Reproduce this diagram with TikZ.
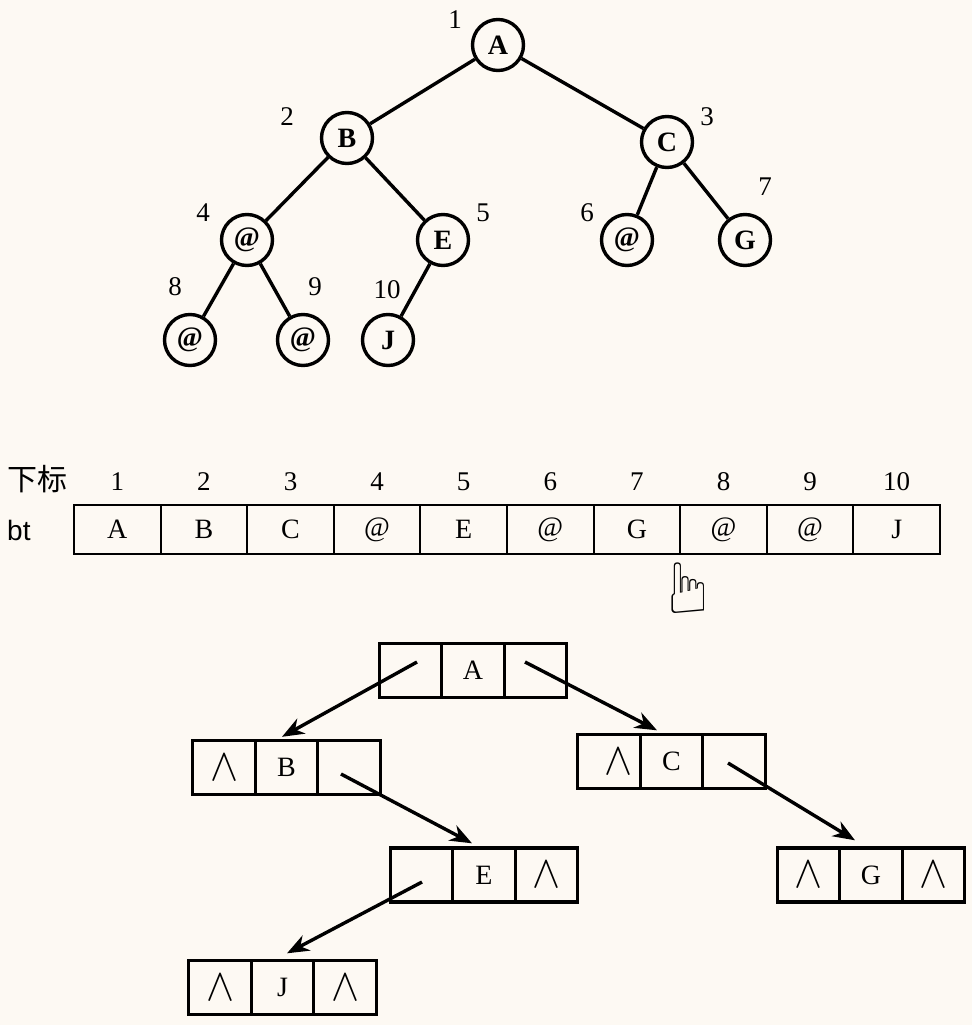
\documentclass[tikz,border=0pt]{standalone}
\usepackage{fontspec}
\setmainfont{Liberation Serif}
\newfontfamily\cjkfont{Noto Sans CJK SC}
\newfontfamily\sansfont{Liberation Sans}
\newfontfamily\symfont{DejaVu Sans}
\usetikzlibrary{arrows.meta}
\definecolor{bgcol}{RGB}{253,249,243}
\newcommand{\nullsym}{{\fontsize{10}{12}\selectfont\scalebox{4.2}[4.6]{$\wedge$}}}
\newcommand{\listnode}[6]{%
  \node[lcell] (#1m) at (#2,#3) {#5};
  \node[lcell] (#1l) at ([xshift=-62.5pt]#1m.center) {#4};
  \node[lcell] (#1r) at ([xshift=62.5pt]#1m.center) {#6};
}
\begin{document}
\begin{tikzpicture}[x=1pt,y=-1pt,
  tn/.style={circle,draw,line width=3.4pt,minimum size=51pt,inner sep=0pt,
    font=\fontsize{28}{28}\selectfont\bfseries},
  idx/.style={inner sep=0pt,font=\fontsize{27}{27}\selectfont},
  edge/.style={line width=3.4pt},
  cell/.style={draw,line width=2pt,minimum width=86.6pt,minimum height=49pt,
    inner sep=0pt,font=\fontsize{28}{28}\selectfont},
  lcell/.style={draw,line width=3.4pt,minimum width=62.5pt,minimum height=54pt,
    inner sep=0pt,font=\fontsize{28}{28}\selectfont},
  ptr/.style={line width=3.4pt,-{Stealth[length=22pt,width=17pt,inset=7pt]}},
]
\fill[bgcol] (0,0) rectangle (972,1025);

% ---- tree ----
\node[tn] (A) at (498,45) {A};
\node[tn] (B) at (347,138) {B};
\node[tn] (C) at (667,142) {C};
\node[tn] (D) at (247,240) {@};
\node[tn] (E) at (443,240) {E};
\node[tn] (F) at (627,240) {@};
\node[tn] (G) at (745,240) {G};
\node[tn] (H) at (190,340) {@};
\node[tn] (I) at (303,340) {@};
\node[tn] (J) at (388,340) {J};

\draw[edge] (A) -- (B);
\draw[edge] (A) -- (C);
\draw[edge] (B) -- (D);
\draw[edge] (B) -- (E);
\draw[edge] (C) -- (F);
\draw[edge] (C) -- (G);
\draw[edge] (D) -- (H);
\draw[edge] (D) -- (I);
\draw[edge] (E) -- (J);

\node[idx] (nA) at (455,20) {1};
\node[idx] (nB) at (287,117) {2};
\node[idx] (nC) at (707,117) {3};
\node[idx] (nD) at (203,213) {4};
\node[idx] (nE) at (483,213) {5};
\node[idx] (nF) at (587,213) {6};
\node[idx] (nG) at (765,187) {7};
\node[idx] (nH) at (175,287) {8};
\node[idx] (nI) at (315,287) {9};
\node[idx] (nJ) at (387,290) {10};

% ---- array ----
\node[inner sep=0pt,font=\cjkfont\fontsize{30}{30}\selectfont] (xb) at (37,479) {下标};
\node[inner sep=0pt,anchor=west,font=\sansfont\fontsize{28}{28}\selectfont] (bt) at (7,530) {bt};
\foreach \t [count=\i] in {A,B,C,@,E,@,G,@,@,J} {
  \node[cell] (t\i) at ({74+86.6*(\i-0.5)},529.5) {\t};
  \node[idx] (i\i) at ({74+86.6*(\i-0.5)},482) {\i};
}
\node[inner sep=0pt,font=\symfont\fontsize{70}{70}\selectfont] (cursor) at (688,588) {\scalebox{-1}[1]{☝}};

% ---- linked structure ----
\listnode{A}{473}{670.5}{}{A}{}
\listnode{B}{286.5}{767.5}{\nullsym}{B}{}
\listnode{C}{671.5}{761.5}{\hspace*{18pt}\nullsym}{C}{}
\listnode{E}{484}{875}{}{E}{\nullsym}
\listnode{G}{871}{875}{\nullsym}{G}{\nullsym}
\listnode{J}{282.5}{987.5}{\nullsym}{J}{\nullsym}

\coordinate (sAl) at ([shift={(6.5,-8.5)}]Al.center);
\coordinate (sAr) at ([shift={(-10.5,-8.5)}]Ar.center);
\coordinate (sBr) at ([shift={(-8,6.5)}]Br.center);
\coordinate (sCr) at ([shift={(-6,1.5)}]Cr.center);
\coordinate (sEl) at ([shift={(0.5,7)}]El.center);

\draw[ptr] (sAl) -- ([shift={(-4.5,-2)}]Bm.north);
\draw[ptr] (sAr) -- ([shift={(-14.5,-2.5)}]Cm.north);
\draw[ptr] (sBr) -- ([shift={(-12,-3)}]Em.north);
\draw[ptr] (sCr) -- ([shift={(-16,-6)}]Gm.north);
\draw[ptr] (sEl) -- ([shift={(4.5,-5.5)}]Jm.north);
\end{tikzpicture}
\end{document}
